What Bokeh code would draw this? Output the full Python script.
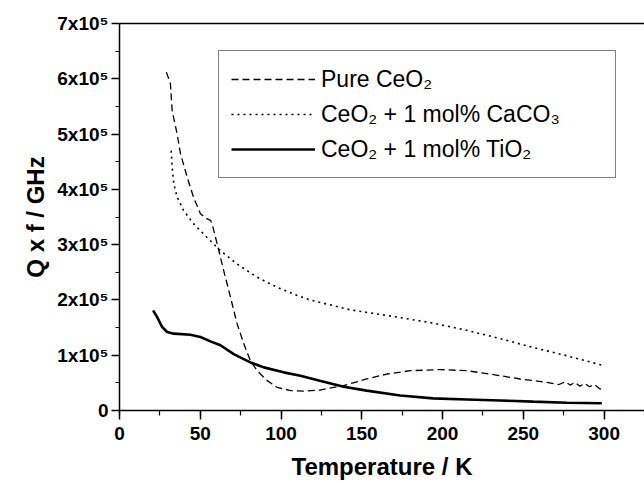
from bokeh.plotting import figure
from bokeh.models import (Range1d, LinearAxis, FixedTicker, Legend, LegendItem,
                          SingleIntervalTicker, Title)
from bokeh.embed import file_html
from bokeh.resources import INLINE

# ---- data ----
pure_T = [29, 31.5, 32.6, 35.7, 37.7, 41.9, 45.9, 50.1, 54, 56.3, 57.3, 60.4, 64.5, 68.7,
          72.8, 76.9, 81, 85.2, 91.4, 97.5, 105.8, 113.8, 124, 138.6, 153, 165.6, 180,
          198.6, 215, 231.4, 248, 264.5, 272, 276, 279, 282, 285, 288, 291, 294, 297, 299]
pure_Q = [6.12e5, 5.92e5, 5.42e5, 5.0e5, 4.65e5, 4.22e5, 3.85e5, 3.56e5, 3.47e5, 3.44e5,
          3.38e5, 3.02e5, 2.53e5, 2.05e5, 1.57e5, 1.21e5, 0.9e5, 0.72e5, 0.54e5, 0.42e5,
          0.36e5, 0.35e5, 0.37e5, 0.45e5, 0.57e5, 0.66e5, 0.72e5, 0.74e5, 0.72e5, 0.65e5,
          0.57e5, 0.51e5, 0.47e5, 0.52e5, 0.46e5, 0.51e5, 0.44e5, 0.49e5, 0.43e5, 0.47e5,
          0.40e5, 0.37e5]

caco3_T = [32, 32.6, 33.6, 35.7, 39.6, 45.8, 54.2, 62.5, 72.8, 85.2, 97.5, 110, 118, 143,
           169.6, 194.4, 215, 235.7, 256, 277, 300]
caco3_Q = [4.7e5, 4.4e5, 4.1e5, 3.86e5, 3.62e5, 3.38e5, 3.13e5, 2.89e5, 2.65e5, 2.41e5,
           2.23e5, 2.08e5, 2.0e5, 1.82e5, 1.70e5, 1.58e5, 1.45e5, 1.30e5, 1.14e5, 0.99e5,
           0.81e5]

tio2_T = [20.8, 23.3, 26.4, 29.5, 33.6, 43.9, 50.1, 56.3, 62.5, 70.7, 81, 89.3, 101.6, 112,
          124, 138.8, 153, 173.8, 194, 215, 235.7, 256, 277, 298.6]
tio2_Q = [1.81e5, 1.69e5, 1.51e5, 1.42e5, 1.39e5, 1.37e5, 1.33e5, 1.25e5, 1.18e5, 1.02e5,
          0.87e5, 0.78e5, 0.69e5, 0.63e5, 0.54e5, 0.43e5, 0.36e5, 0.27e5, 0.22e5, 0.20e5,
          0.18e5, 0.16e5, 0.14e5, 0.13e5]

series_labels = ["Pure CeO\u2082", "CeO\u2082 + 1 mol% CaCO\u2083", "CeO\u2082 + 1 mol% TiO\u2082"]
y_tick_values = [0, 1e5, 2e5, 3e5, 4e5, 5e5, 6e5, 7e5]
y_tick_labels = ["0", "1x10\u2075", "2x10\u2075", "3x10\u2075", "4x10\u2075",
                 "5x10\u2075", "6x10\u2075", "7x10\u2075"]
x_label = "Temperature / K"
y_label = "Q x f / GHz"

FONT = "Liberation Sans"

p = figure(width=644, height=483, output_backend="svg", toolbar_location=None,
           x_range=Range1d(0, 325), y_range=Range1d(0, 7e5),
           min_border_left=119, min_border_right=0, min_border_top=23, min_border_bottom=73)
p.outline_line_color = None
p.grid.visible = False
p.background_fill_color = "white"
p.border_fill_color = "white"

r1 = p.line(pure_T, pure_Q, line_color="black", line_width=1.3, line_dash="7 4")
r2 = p.line(caco3_T, caco3_Q, line_color="black", line_width=1.6, line_dash="2 4")
r3 = p.line(tio2_T, tio2_Q, line_color="black", line_width=2.6)

for ax in (p.xaxis[0], p.yaxis[0]):
    ax.axis_line_width = 1.5
    ax.major_tick_line_width = 1.5
    ax.minor_tick_line_width = 1.2
    ax.major_tick_in = 0
    ax.minor_tick_in = 0
    ax.major_label_text_font = FONT
    ax.major_label_text_font_style = "bold"
    ax.major_label_text_font_size = "19px"
    ax.major_label_text_color = "black"
    ax.axis_label_text_font = FONT
    ax.axis_label_text_font_style = "bold"
    ax.axis_label_text_font_size = "24px"
    ax.axis_label_text_color = "black"

xa = p.xaxis[0]
xa.ticker = SingleIntervalTicker(interval=50, num_minor_ticks=2)
xa.major_tick_out = 9
xa.minor_tick_out = 5
xa.major_label_standoff = 7
xa.axis_label = x_label
xa.axis_label_standoff = 10

ya = p.yaxis[0]
ya.ticker = FixedTicker(ticks=y_tick_values, minor_ticks=[v + 0.5e5 for v in y_tick_values[:-1]])
ya.major_label_overrides = {v: s for v, s in zip(y_tick_values, y_tick_labels)}
ya.major_tick_out = 8
ya.minor_tick_out = 4
ya.major_label_standoff = 3

# y-axis title, sitting a little above the frame centre as in the reference
ytitle = Title(text=y_label, align="center", offset=45, standoff=12,
               text_font=FONT, text_font_style="bold", text_font_size="24px",
               text_color="black")
p.add_layout(ytitle, "left")

top = LinearAxis(ticker=FixedTicker(ticks=[]), major_tick_out=0, minor_tick_out=0,
                 major_label_text_font_size="0px", axis_line_width=1.5)
p.add_layout(top, "above")

legend = Legend(items=[LegendItem(label=series_labels[0], renderers=[r1]),
                       LegendItem(label=series_labels[1], renderers=[r2]),
                       LegendItem(label=series_labels[2], renderers=[r3])],
                location=(99, 232))
legend.padding = 12
legend.spacing = 3
legend.margin = 0
legend.label_height = 32
legend.glyph_height = 32
legend.glyph_width = 84
legend.label_standoff = 6
legend.label_width = 282
legend.label_text_font = FONT
legend.label_text_font_size = "23px"
legend.label_text_color = "black"
legend.border_line_color = "black"
legend.border_line_width = 1.5
legend.background_fill_color = "white"
legend.background_fill_alpha = 1.0
p.add_layout(legend)

open("out.html", "w").write(file_html(p, INLINE))
